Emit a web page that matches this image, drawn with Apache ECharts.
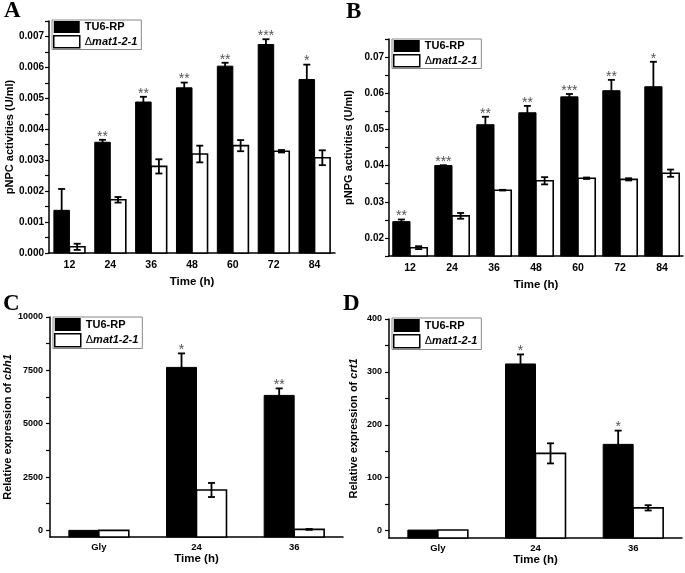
<!DOCTYPE html>
<html>
<head>
<meta charset="utf-8">
<script src="https://cdn.jsdelivr.net/npm/echarts@6/dist/echarts.min.js"></script>
<style>
  html, body { margin: 0; padding: 0; background: #fff; }
  #app { width: 685px; height: 573px; }
</style>
</head>
<body>
<div id="app"></div>
<script>
// categories
const timeCats = ['12', '24', '36', '48', '60', '72', '84'];
const exprCats = ['Gly', '24', '36'];

// A: pNPC activities (U/ml)
const pnpcWT = [0.00138, 0.00358, 0.00488, 0.00534, 0.00604, 0.00674, 0.00561];
const pnpcWTErr = [0.00069, 0.00008, 0.00017, 0.00017, 0.00011, 0.00017, 0.00048];
const pnpcMut = [0.0002, 0.00172, 0.0028, 0.0032, 0.00347, 0.00329, 0.00308];
const pnpcMutErr = [0.0001, 0.00009, 0.00023, 0.00027, 0.00018, 0.00004, 0.00024];
const pnpcStars = ['', '**', '**', '**', '**', '***', '*'];

// B: pNPG activities (U/ml)
const pnpgWT = [0.0245, 0.0400, 0.0513, 0.0546, 0.0590, 0.0607, 0.0618];
const pnpgWTErr = [0.0006, 0.0001, 0.0022, 0.0019, 0.0008, 0.0030, 0.0069];
const pnpgMut = [0.0173, 0.0261, 0.0332, 0.0358, 0.0365, 0.0362, 0.0379];
const pnpgMutErr = [0.0004, 0.0008, 0.0001, 0.0010, 0.0002, 0.0003, 0.0010];
const pnpgStars = ['**', '***', '**', '**', '***', '**', '*'];

// C: relative expression of cbh1
const cbh1WT = [1, 7638, 6326];
const cbh1WTErr = [0, 656, 328];
const cbh1Mut = [1, 1893, 45];
const cbh1MutErr = [0, 330, 20];
const cbh1Stars = ['', '*', '**'];

// D: relative expression of crt1
const crt1WT = [1, 315, 163];
const crt1WTErr = [0, 18, 26];
const crt1Mut = [1, 146, 43];
const crt1MutErr = [0, 19, 5];
const crt1Stars = ['', '*', '*'];

// tick labels / tick marks
const pnpcLabels = [0, 0.001, 0.002, 0.003, 0.004, 0.005, 0.006, 0.007];
const pnpcTicks = [0, 0.0005, 0.001, 0.0015, 0.002, 0.0025, 0.003, 0.0035, 0.004, 0.0045, 0.005, 0.0055, 0.006, 0.0065, 0.007, 0.0075];
const pnpgLabels = [0.02, 0.03, 0.04, 0.05, 0.06, 0.07];
const pnpgTicks = [0.015, 0.02, 0.025, 0.03, 0.035, 0.04, 0.045, 0.05, 0.055, 0.06, 0.065, 0.07, 0.075];
const cbh1Labels = [0, 2500, 5000, 7500, 10000];
const cbh1Ticks = [0, 1250, 2500, 3750, 5000, 6250, 7500, 8750, 10000];
const crt1Labels = [0, 100, 200, 300, 400];
const crt1Ticks = [0, 50, 100, 150, 200, 250, 300, 350, 400];

const WT = 'TU6-RP';
const MUT = 'Δmat1-2-1';
const FONT = '"Liberation Sans", Arial, sans-serif';

const chart = echarts.init(document.getElementById('app'));

function toData(vals, errs) {
  return vals.map((v, i) => [i, v, errs[i]]);
}

// draws a bar from the bottom of the grid, its error bar and the stars above it
function barRenderer(side, frac, stars) {
  return function (params, api) {
    const cat = api.value(0);
    const val = api.value(1);
    const err = api.value(2);
    const top = api.coord([cat, val]);
    const w = api.size([1, 0])[0] * frac;
    const base = params.coordSys.y + params.coordSys.height;
    const x0 = side < 0 ? top[0] - w : top[0];
    const cx = x0 + w / 2;
    const children = [{
      type: 'rect',
      shape: { x: x0, y: top[1], width: w, height: base - top[1] },
      style: side < 0
        ? { fill: '#000', stroke: '#000', lineWidth: 1 }
        : { fill: '#fff', stroke: '#000', lineWidth: 1.6 }
    }];
    let errTop = top[1];
    if (err > 0) {
      const hi = api.coord([cat, val + err])[1];
      const lo = api.coord([cat, val - err])[1];
      errTop = hi;
      const cap = 3.5;
      const ls = { stroke: '#000', lineWidth: 1.8 };
      children.push(
        { type: 'line', shape: { x1: cx, y1: hi, x2: cx, y2: lo }, style: ls },
        { type: 'line', shape: { x1: cx - cap, y1: hi, x2: cx + cap, y2: hi }, style: ls },
        { type: 'line', shape: { x1: cx - cap, y1: lo, x2: cx + cap, y2: lo }, style: ls }
      );
    }
    const s = stars ? stars[params.dataIndex] : '';
    if (s) {
      children.push({
        type: 'text',
        style: {
          text: s, x: cx, y: errTop + 4, align: 'center', verticalAlign: 'bottom',
          fontSize: 14, fontFamily: FONT, fill: '#555'
        }
      });
    }
    return { type: 'group', children: children };
  };
}

function panelSeries(idx, frac, wt, wtErr, mut, mutErr, stars) {
  return [
    {
      name: WT, type: 'custom', xAxisIndex: idx, yAxisIndex: idx,
      encode: { x: 0, y: 1 },
      itemStyle: { color: '#000' },
      renderItem: barRenderer(-1, frac, stars),
      data: toData(wt, wtErr)
    },
    {
      name: MUT, type: 'custom', xAxisIndex: idx, yAxisIndex: idx,
      encode: { x: 0, y: 1 },
      itemStyle: { color: '#fff', borderColor: '#000', borderWidth: 1.5 },
      renderItem: barRenderer(1, frac, null),
      data: toData(mut, mutErr)
    }
  ];
}

function xAxisFor(idx, cats, fontSize, labelMargin, nameGap) {
  return {
    type: 'category', gridIndex: idx, data: cats,
    name: 'Time (h)', nameLocation: 'middle', nameGap: nameGap,
    nameTextStyle: { fontFamily: FONT, fontWeight: 'bold', fontSize: 11.5, color: '#000' },
    axisLine: { onZero: false, lineStyle: { color: '#000', width: 1.5 } },
    axisTick: { length: 4, lineStyle: { color: '#000', width: 1.2 } },
    axisLabel: { margin: labelMargin, fontFamily: FONT, fontWeight: 'bold', fontSize: fontSize, color: '#000' },
    splitLine: { show: false }
  };
}

function yAxisFor(idx, min, max, labels, ticks, fmt, name, fontSize, labelMargin, nameGap) {
  return {
    type: 'value', gridIndex: idx, min: min, max: max,
    name: name, nameLocation: 'middle', nameGap: nameGap,
    nameTextStyle: {
      fontFamily: FONT, fontWeight: 'bold', fontSize: 11, color: '#000',
      rich: { i: { fontFamily: FONT, fontWeight: 'bold', fontStyle: 'italic', fontSize: 11, color: '#000' } }
    },
    axisLine: { show: true, onZero: false, lineStyle: { color: '#000', width: 1.5 } },
    axisTick: { show: true, length: 4, customValues: ticks, lineStyle: { color: '#000', width: 1.2 } },
    axisLabel: {
      customValues: labels, margin: labelMargin, formatter: fmt,
      fontFamily: FONT, fontWeight: 'bold', fontSize: fontSize, color: '#000'
    },
    splitLine: { show: false }
  };
}

function legendAt(left, top, iw, ih) {
  return {
    orient: 'vertical', left: left, top: top,
    padding: [1, 4, 1, 1], itemGap: 2, itemWidth: iw, itemHeight: ih,
    borderColor: '#888', borderWidth: 1,
    selectedMode: false,
    data: [
      { name: WT, icon: 'rect', itemStyle: { color: '#000', borderWidth: 0 } },
      { name: MUT, icon: 'rect', itemStyle: { color: '#fff', borderColor: '#000', borderWidth: 1.5 } }
    ],
    formatter: function (name) {
      return name === MUT ? '{d|Δ}{i|mat1-2-1}' : '{b|' + name + '}';
    },
    textStyle: {
      fontFamily: FONT, fontSize: 11, color: '#000',
      rich: {
        b: { fontFamily: FONT, fontWeight: 'bold', fontSize: 11, color: '#000' },
        d: { fontFamily: FONT, fontSize: 11, color: '#000' },
        i: { fontFamily: FONT, fontWeight: 'bold', fontStyle: 'italic', fontSize: 11, color: '#000' }
      }
    }
  };
}

function letter(text, left, top) {
  return {
    text: text, left: left, top: top, padding: 0,
    textStyle: { fontFamily: '"Liberation Serif", "Times New Roman", serif', fontWeight: 'bold', fontSize: 23, color: '#000' }
  };
}

chart.setOption({
  animation: false,
  backgroundColor: '#fff',
  title: [letter('A', 4, 0), letter('B', 346, 1), letter('C', 3, 293), letter('D', 343, 293)],
  legend: [legendAt(52, 20, 26, 12), legendAt(392, 39, 26, 12), legendAt(53, 317, 26, 13), legendAt(392, 318, 26, 13)],
  grid: [
    { left: 49, top: 21, width: 286, height: 232 },
    { left: 389, top: 39, width: 294, height: 217 },
    { left: 50, top: 317, width: 293, height: 220 },
    { left: 389, top: 319, width: 293, height: 219 }
  ],
  xAxis: [
    xAxisFor(0, timeCats, 10.5, 7, 23),
    xAxisFor(1, timeCats, 10.5, 7, 23),
    xAxisFor(2, exprCats, 9.5, 5, 12),
    xAxisFor(3, exprCats, 9.5, 5, 11)
  ],
  yAxis: [
    yAxisFor(0, 0, 0.0075, pnpcLabels, pnpcTicks, v => v.toFixed(3), 'pNPC activities (U/ml)', 10, 5, 34),
    yAxisFor(1, 0.015, 0.075, pnpgLabels, pnpgTicks, v => v.toFixed(2), 'pNPG activities (U/ml)', 10, 5, 35),
    yAxisFor(2, -310, 10000, cbh1Labels, cbh1Ticks, v => String(v), 'Relative expression of {i|cbh1}', 9, 7, 37),
    yAxisFor(3, -14, 400, crt1Labels, crt1Ticks, v => String(v), 'Relative expression of {i|crt1}', 9, 7, 30)
  ],
  series: [].concat(
    panelSeries(0, 0.38, pnpcWT, pnpcWTErr, pnpcMut, pnpcMutErr, pnpcStars),
    panelSeries(1, 0.41, pnpgWT, pnpgWTErr, pnpgMut, pnpgMutErr, pnpgStars),
    panelSeries(2, 0.307, cbh1WT, cbh1WTErr, cbh1Mut, cbh1MutErr, cbh1Stars),
    panelSeries(3, 0.307, crt1WT, crt1WTErr, crt1Mut, crt1MutErr, crt1Stars)
  )
});
</script>
</body>
</html>
